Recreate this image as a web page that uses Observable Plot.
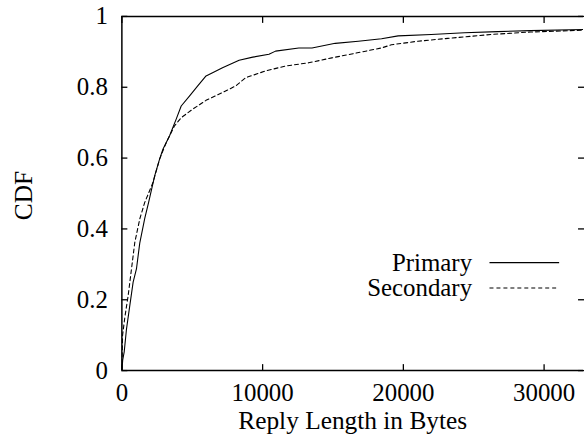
<!DOCTYPE html>
<html>
<head>
<meta charset="utf-8">
<script src="https://cdn.jsdelivr.net/npm/d3@7"></script>
<script src="https://cdn.jsdelivr.net/npm/@observablehq/plot@0.6"></script>
<style>
  html, body { margin: 0; padding: 0; background: #fff; overflow: hidden; }
  #wrap { width: 585px; height: 437px; overflow: hidden; }
</style>
</head>
<body>
<div id="wrap"></div>
<script>
const primaryX = [0, 60, 165, 330, 565, 800, 1035, 1270, 1625, 1900, 2330, 2680, 2917, 3390, 3860, 4215, 4800, 5390, 5980, 6445, 7150, 8330, 9300, 10450, 10920, 12570, 13510, 15160, 16800, 18450, 19630, 21980, 24340, 26690, 29040, 32800];
const primaryY = [0, 0.03, 0.053, 0.118, 0.184, 0.25, 0.287, 0.36, 0.43, 0.475, 0.55, 0.597, 0.625, 0.663, 0.71, 0.747, 0.775, 0.804, 0.832, 0.841, 0.855, 0.876, 0.885, 0.893, 0.902, 0.911, 0.911, 0.924, 0.93, 0.937, 0.945, 0.949, 0.954, 0.957, 0.96, 0.963];
const secondaryX = [0, 50, 212, 447, 683, 918, 1270, 1625, 2210, 2680, 3155, 3740, 4215, 5030, 5980, 7150, 8100, 8800, 10210, 11630, 13270, 14920, 16330, 18450, 19150, 21040, 23160, 26210, 29040, 32800];
const secondaryY = [0, 0.1, 0.151, 0.212, 0.287, 0.362, 0.428, 0.475, 0.531, 0.597, 0.644, 0.691, 0.714, 0.738, 0.763, 0.785, 0.804, 0.827, 0.846, 0.86, 0.869, 0.883, 0.894, 0.911, 0.92, 0.93, 0.938, 0.949, 0.956, 0.961];
const xTicks = [0, 10000, 20000, 30000];
const yTicks = [0, 0.2, 0.4, 0.6, 0.8, 1];
const seriesNames = ["Primary", "Secondary"];
const xTitle = "Reply Length in Bytes";
const yTitle = "CDF";

const primary = primaryX.map((x, i) => ({x, y: primaryY[i]}));
const secondary = secondaryX.map((x, i) => ({x, y: secondaryY[i]}));

const FONT = "Liberation Serif, Times New Roman, serif";
const FS = 25;
const FT = 25.5;

const chart = Plot.plot({
  width: 588,
  height: 437,
  marginLeft: 122,
  marginRight: 2,
  marginTop: 16,
  marginBottom: 65,
  style: {fontFamily: FONT, fontSize: FS + "px", background: "#fff", color: "#000"},
  x: {domain: [0, 32800]},
  y: {domain: [0, 1]},
  marks: [
    // inward ticks on all four sides
    Plot.axisX(xTicks, {anchor: "bottom", tickSize: 6, dy: -6, fill: "none", label: null, stroke: "#000", strokeWidth: 1.3}),
    Plot.axisX(xTicks, {anchor: "top", tickSize: 6, dy: 6, fill: "none", label: null, stroke: "#000", strokeWidth: 1.3}),
    Plot.axisY(yTicks, {anchor: "left", tickSize: 6, dx: 6, fill: "none", label: null, stroke: "#000", strokeWidth: 1.3}),
    Plot.axisY(yTicks, {anchor: "right", tickSize: 6, dx: -6, fill: "none", label: null, stroke: "#000", strokeWidth: 1.3}),
    // tick labels
    Plot.axisX(xTicks, {anchor: "bottom", tickSize: 0, tickPadding: 13, tickFormat: d => String(d), label: null, fontSize: FS, fill: "#000"}),
    Plot.axisY(yTicks, {anchor: "left", tickSize: 0, tickPadding: 14, tickFormat: d => String(d), label: null, fontSize: FS, fill: "#000"}),
    // border
    Plot.ruleY([0, 1], {stroke: "#000", strokeWidth: 1.5}),
    Plot.ruleX([0], {stroke: "#000", strokeWidth: 1.5}),
    // curves
    Plot.line(primary, {x: "x", y: "y", stroke: "#000", strokeWidth: 1.1, clip: true}),
    Plot.line(secondary, {x: "x", y: "y", stroke: "#000", strokeWidth: 1.1, strokeDasharray: "4,3", clip: true}),
    // axis titles
    Plot.text([xTitle], {frameAnchor: "bottom", dy: 51, textAnchor: "middle", lineAnchor: "middle", fontSize: FT, fill: "#000"}),
    Plot.text([yTitle], {frameAnchor: "left", dx: -98.5, dy: 2, rotate: -90, textAnchor: "middle", lineAnchor: "middle", fontSize: FT, fill: "#000"}),
    // legend labels
    Plot.text([seriesNames[0]], {frameAnchor: "top-right", dx: -112, dy: 248, textAnchor: "end", lineAnchor: "middle", fontSize: FS, fill: "#000"}),
    Plot.text([seriesNames[1]], {frameAnchor: "top-right", dx: -112, dy: 273, textAnchor: "end", lineAnchor: "middle", fontSize: FS, fill: "#000"})
  ]
});

// legend line samples
const svg = d3.select(chart);
const legendRows = [{dash: null, y: 264}, {dash: "4,3", y: 289.5}];
legendRows.forEach(r => {
  const l = svg.append("line")
    .attr("x1", 492).attr("x2", 562)
    .attr("y1", r.y).attr("y2", r.y)
    .attr("stroke", "#000").attr("stroke-width", 1.1);
  if (r.dash) l.attr("stroke-dasharray", r.dash);
});

document.getElementById("wrap").appendChild(chart);
</script>
</body>
</html>
